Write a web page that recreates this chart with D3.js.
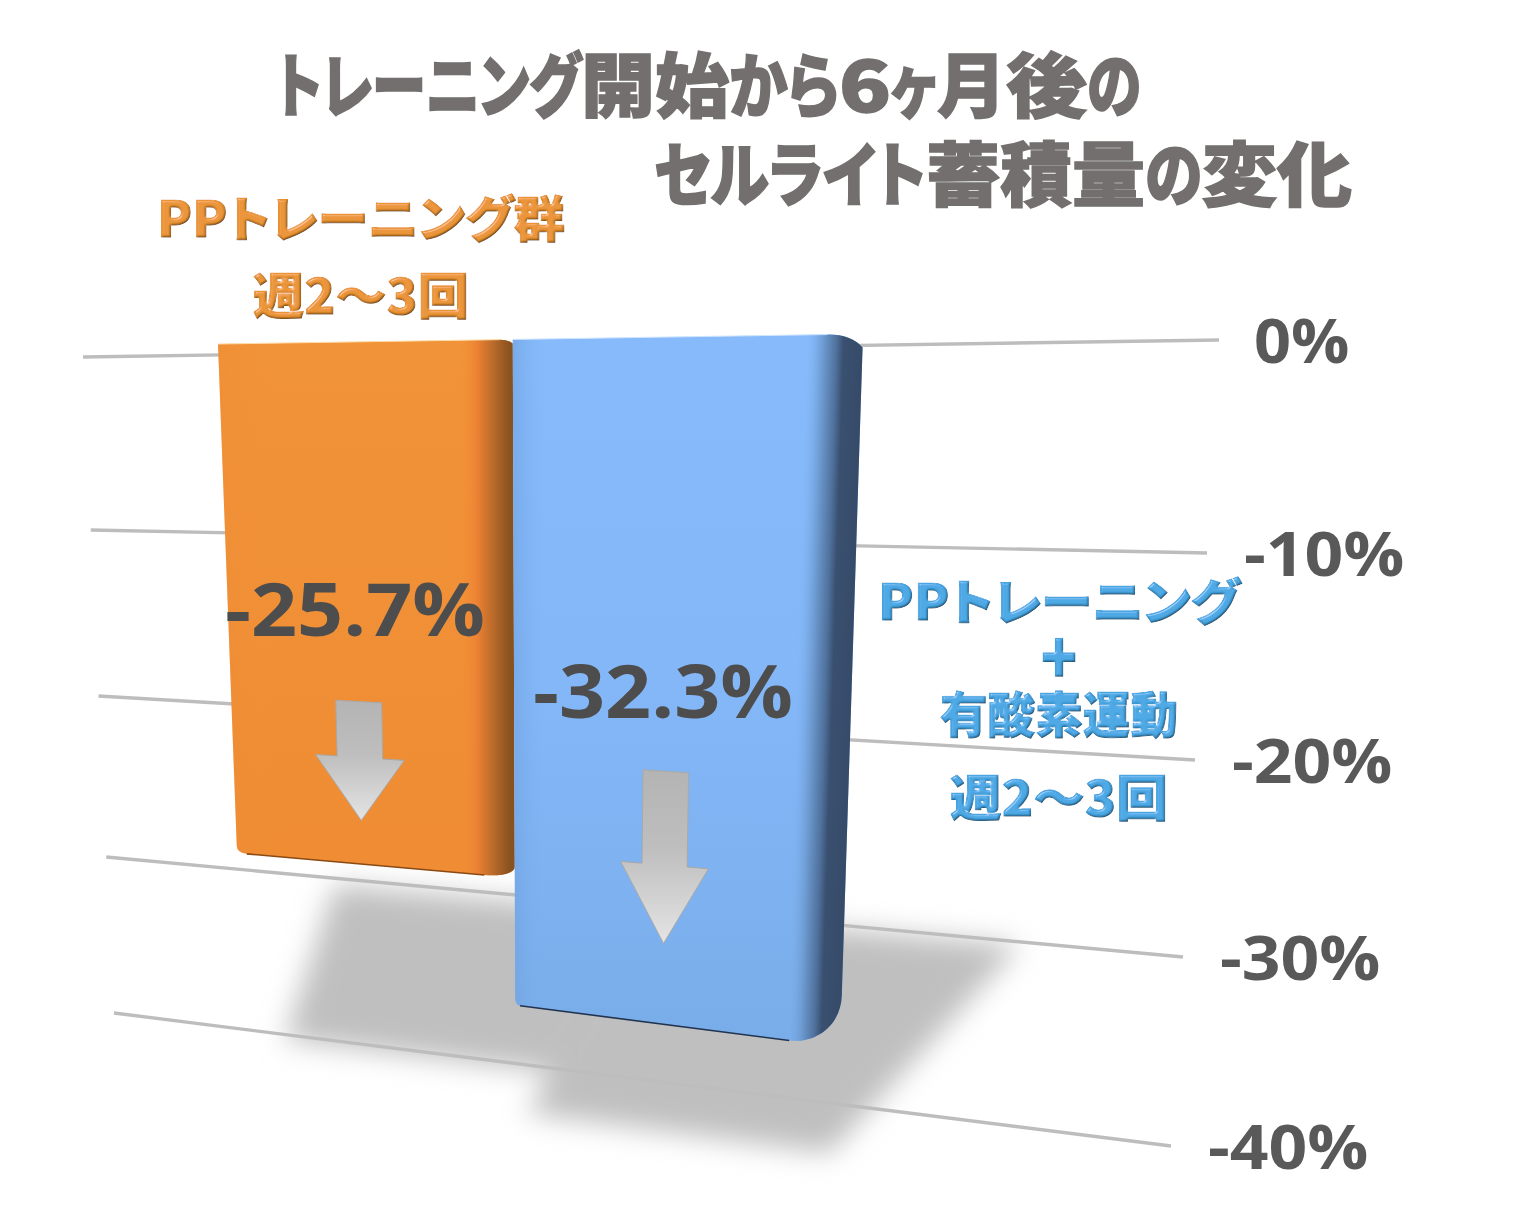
<!DOCTYPE html>
<html lang="ja"><head><meta charset="utf-8">
<script src="https://cdn.jsdelivr.net/npm/d3@7/dist/d3.min.js"></script>
<style>html,body{margin:0;padding:0;background:#fff}svg{display:block}
.jp{font-family:"Noto Sans CJK JP";font-feature-settings:"palt"}
.num{font-family:"Open Sans";font-weight:700}</style></head><body>
<script>
// ---- data
const categories = ["PPトレーニング群", "PPトレーニング+有酸素運動"];
const seriesValues = [-25.7, -32.3];
const tickValues = [0, -10, -20, -30, -40];
const tickLabels = ["0%", "-10%", "-20%", "-30%", "-40%"];
const valueLabels = ["-25.7%", "-32.3%"];
const titleRuns = [["トレーニング", "開始", "から", "6", "ヶ", "月", "後", "の"], ["セルライト", "蓄", "積", "量", "の", "変", "化"]];
const orangeCaption = ["PPトレーニング群", "週2〜3回"];
const blueCaption = ["PPトレーニング", "＋", "有酸素運動", "週2〜3回"];

const W = 1514, H = 1232;
const svg = d3.select("body").append("svg").attr("width", W).attr("height", H);
const defs = svg.append("defs");

// ---- perspective scales (value -> pixel on each side of a plane)
const gridLeftX = d3.scaleLinear().domain([0, -40]).range([83, 114]);
const gridRightX = d3.scaleLinear().domain([0, -40]).range([1219, 1171]);
const gridLeftY = d3.scaleLinear().domain(tickValues).range([357, 530, 696, 857, 1013]);
const gridRightY = d3.scaleLinear().domain(tickValues).range([340, 553, 760, 957, 1146]);

const faceLeftX = d3.scaleLinear().domain([0, -40]).range([218, 247.6]);
const faceRightX = d3.scaleLinear().domain([0, -40]).range([863, 834.6]);
const faceLeftY = d3.scaleLinear().domain([0, seriesValues[0], seriesValues[1], -40]).range([344, 853, 970, 1118]);
const faceRightY = d3.scaleLinear().domain([0, seriesValues[0], seriesValues[1], -40]).range([334, 907, 1047, 1218]);

const floorLeftX = d3.scaleLinear().domain([0, -40]).range([335, 257]);
const floorRightX = d3.scaleLinear().domain([0, -40]).range([1020, 784]);
const floorLeftY = d3.scaleLinear().domain([0, -40]).range([885, 1126]);
const floorRightY = d3.scaleLinear().domain([0, -40]).range([945, 1203]);

const band = d3.scaleLinear().domain([0, 1, 2]).range([0, 0.457, 1]);
const mix = (a, b, t) => a + (b - a) * t;
const face = (u, v) => [mix(faceLeftX(v), faceRightX(v), u), mix(faceLeftY(v), faceRightY(v), u)];
const floor = (u, v) => [mix(floorLeftX(v), floorRightX(v), u), mix(floorLeftY(v), floorRightY(v), u)];

// ---- defs
function grad(id, x2, y2, stops) {
  const g = defs.append("linearGradient").attr("id", id)
    .attr("x1", 0).attr("y1", 0).attr("x2", x2).attr("y2", y2);
  stops.forEach(s => g.append("stop").attr("offset", s[0]).attr("stop-color", s[1]).attr("stop-opacity", s[2] === undefined ? 1 : s[2]));
  return g;
}
grad("fillOrange", 0, 1, [[0, "#F19339"], [1, "#EF8C34"]]);
grad("fillBlue", 0, 1, [[0, "#86BAFB"], [0.5, "#84B7F8"], [1, "#79ADE9"]]);
grad("sideOrange", 1, 0, [[0, "#EE8A33", 0.35], [0.2, "#F19339", 0], [0.82, "#F08D36", 0], [0.87, "#EE8333", 1], [0.93, "#B8692A", 1], [0.98, "#8A5320", 1], [1, "#875020", 1]]);
grad("leftBlue", 1, 0, [[0, "#6D9FDC", 0.55], [0.09, "#7DB0F0", 0]]);
// the dark side band follows the leaning right edge of the bar
const lean = -0.032, leanBase = 334;
grad("sideBlue", 1, 0, [[0, "#7FB4F2", 0], [0.84, "#7FB4F2", 0], [0.885, "#6F9DD4", 1], [0.925, "#4F719C", 1], [0.945, "#3A5070", 1], [1, "#364B68", 1]])
  .attr("gradientUnits", "userSpaceOnUse").attr("x1", 513).attr("x2", 863).attr("y1", 0).attr("y2", 0)
  .attr("gradientTransform", `matrix(1,0,${lean},1,${-lean * leanBase},0)`);
grad("arrowFill", 0, 1, [[0, "#B4B4B4"], [0.45, "#BEBEBE"], [1, "#E4E4E4"]]);

defs.append("filter").attr("id", "soft").attr("x", "-20%").attr("y", "-20%").attr("width", "140%").attr("height", "140%")
  .append("feGaussianBlur").attr("stdDeviation", 14);

const bevel = defs.append("filter").attr("id", "bevel").attr("x", "-5%").attr("y", "-10%").attr("width", "110%").attr("height", "120%");
bevel.append("feGaussianBlur").attr("in", "SourceAlpha").attr("stdDeviation", 1.2).attr("result", "b");
const dl = bevel.append("feDiffuseLighting").attr("in", "b").attr("surfaceScale", 1.8).attr("diffuseConstant", 1.18).attr("lighting-color", "#fff").attr("result", "d");
dl.append("feDistantLight").attr("azimuth", 235).attr("elevation", 58);
bevel.append("feBlend").attr("in", "SourceGraphic").attr("in2", "d").attr("mode", "multiply").attr("result", "m");
const sl = bevel.append("feSpecularLighting").attr("in", "b").attr("surfaceScale", 1.8).attr("specularConstant", 0.3).attr("specularExponent", 45).attr("lighting-color", "#fff").attr("result", "s");
sl.append("feDistantLight").attr("azimuth", 235).attr("elevation", 50);
bevel.append("feComposite").attr("in", "m").attr("in2", "s").attr("operator", "arithmetic").attr("k1", 0).attr("k2", 1).attr("k3", 1).attr("k4", 0).attr("result", "c");
bevel.append("feComposite").attr("in", "c").attr("in2", "SourceAlpha").attr("operator", "in");

// ---- floor shadow
const shadowLine = d3.line().curve(d3.curveLinearClosed);
svg.append("g").attr("filter", "url(#soft)").attr("fill", "#BFBFBF")
  .selectAll("path").data(seriesValues).join("path")
  .attr("d", (v, i) => shadowLine([floor(band(i), 0), floor(band(i + 1), 0), floor(band(i + 1), v), floor(band(i), v)]));

// ---- grid
svg.append("g").selectAll("line").data(tickValues).join("line")
  .attr("x1", gridLeftX).attr("y1", gridLeftY)
  .attr("x2", gridRightX).attr("y2", gridRightY)
  .attr("stroke", "#BDBDBD").attr("stroke-width", 3.4);

// text drawn at its natural height but stretched to the reference's wider letterforms
function stretch(sel, factor) {
  sel.each(function (d, i) {
    const f = typeof factor === "function" ? factor(d, i) : factor;
    this.setAttribute("textLength", this.getComputedTextLength() * f);
    this.setAttribute("lengthAdjust", "spacingAndGlyphs");
  });
}

// ---- tick labels
svg.append("g").selectAll("text").data(tickValues).join("text")
  .attr("class", "num").attr("font-size", 60).attr("fill", "#595959")
  .attr("x", v => gridRightX(v) + (v === 0 ? 35 : 37)).attr("y", v => gridRightY(v) + 23)
  .text((v, i) => tickLabels[i])
  .call(stretch, v => v === 0 ? 1.08 : 1.13);

// ---- bars
const corner = [
  { topU: 0.02, topV: 0.2, botU: 0.05, botV: 0.5, leftU: 0.016, leftV: 0.35 },
  { topU: 0.055, topV: 0.6, botU: 0.085, botV: 2.4, leftU: 0.008, leftV: 0.4 }
];
function barPath(i, v) {
  const u0 = band(i), u1 = band(i + 1), c = corner[i], p = d3.path();
  p.moveTo(...face(u0, 0));
  p.lineTo(...face(u1 - c.topU, 0));
  p.quadraticCurveTo(...face(u1 - c.topU * 0.35, 0), ...face(u1, -c.topV));
  p.lineTo(...face(u1, v + c.botV));
  p.bezierCurveTo(...face(u1, v + c.botV * 0.45), ...face(u1 - c.botU * 0.45, v), ...face(u1 - c.botU, v));
  p.lineTo(...face(u0 + c.leftU, v));
  p.quadraticCurveTo(...face(u0, v), ...face(u0, v + c.leftV));
  p.closePath();
  return p.toString();
}
function bottomEdge(i, v) {
  const u0 = band(i), u1 = band(i + 1), c = corner[i], p = d3.path();
  p.moveTo(...face(u0 + c.leftU, v));
  p.lineTo(...face(u1 - c.botU, v));
  return p.toString();
}
const fills = ["fillOrange", "fillBlue"], sides = ["sideOrange", "sideBlue"], edges = ["#8A4A12", "#20344F"], tops = ["#FFDCA8", "#CFE4FF"];
const bars = svg.append("g").selectAll("g").data(seriesValues).join("g");
bars.append("path").attr("d", (v, i) => barPath(i, v)).attr("fill", (v, i) => `url(#${fills[i]})`);
bars.append("path").attr("d", (v, i) => barPath(i, v)).attr("fill", (v, i) => i ? "url(#leftBlue)" : "none");
bars.append("path").attr("d", (v, i) => barPath(i, v)).attr("fill", (v, i) => `url(#${sides[i]})`);
bars.append("path").attr("d", (v, i) => bottomEdge(i, v)).attr("fill", "none").attr("stroke", (v, i) => edges[i]).attr("stroke-width", 1.6);
bars.append("line")
  .attr("x1", (v, i) => face(band(i), 0)[0]).attr("y1", (v, i) => face(band(i), 0)[1])
  .attr("x2", (v, i) => face(band(i + 1) - corner[i].topU, 0)[0]).attr("y2", (v, i) => face(band(i + 1) - corner[i].topU, 0)[1])
  .attr("stroke", (v, i) => tops[i]).attr("stroke-width", 1);

// ---- arrows (drawn on the bar face)
const arrowCentre = [0.206, 0.703];
const arrowTop = [-17.7, -20.15];
const arrowShoulder = [-20.45, -24.5];
const arrowTip = [-23.55, -28.3];
const arrowLine = d3.line().curve(d3.curveLinearClosed);
svg.append("g").selectAll("path").data(arrowCentre).join("path")
  .attr("d", (u, i) => arrowLine([
    face(u - 0.037, arrowTop[i]), face(u + 0.037, arrowTop[i]),
    face(u + 0.037, arrowShoulder[i]), face(u + 0.072, arrowShoulder[i]),
    face(u, arrowTip[i]),
    face(u - 0.072, arrowShoulder[i]), face(u - 0.037, arrowShoulder[i])
  ]))
  .attr("fill", "url(#arrowFill)").attr("stroke", "#A9A9A9").attr("stroke-width", 1);

// ---- value labels
const labelX = [225, 533], labelY = [636, 718];
svg.append("g").selectAll("text").data(valueLabels).join("text")
  .attr("class", "num").attr("font-size", 74).attr("fill", "#4D4D4D")
  .attr("x", (d, i) => labelX[i]).attr("y", (d, i) => labelY[i]).text(d => d)
  .call(stretch, 1.09);

// ---- title: each run is fitted to the extent it has in the reference
const titleEdges = [[276, 581, 729, 839, 891, 937, 1006, 1087, 1141], [654, 926, 1000, 1072, 1145, 1202, 1277, 1352]];
const titleY = [112, 201];
svg.append("g").selectAll("text").data(titleRuns).join("text")
  .attr("class", "jp").attr("font-size", 70).attr("font-weight", 900)
  .attr("fill", "#736F6F").attr("stroke", "#736F6F").attr("stroke-width", 1.5)
  .attr("y", (d, i) => titleY[i])
  .each(function (runs, line) {
    d3.select(this).selectAll("tspan").data(runs).join("tspan")
      .attr("x", (r, j) => titleEdges[line][j])
      .attr("textLength", (r, j) => titleEdges[line][j + 1] - titleEdges[line][j])
      .attr("lengthAdjust", "spacingAndGlyphs")
      .text(r => r);
  });

// ---- captions
function caption(lines, x, ys, widths, size, colour) {
  svg.append("g").attr("filter", "url(#bevel)").selectAll("text").data(lines).join("text")
    .attr("class", "jp").attr("font-size", size).attr("font-weight", 900).attr("fill", colour)
    .attr("stroke", colour).attr("stroke-width", d => d === "＋" ? 4 : 1)
    .attr("x", (d, i) => x - widths[i] / 2).attr("y", (d, i) => ys[i])
    .attr("textLength", (d, i) => widths[i]).attr("lengthAdjust", "spacingAndGlyphs")
    .text(d => d);
}
caption(orangeCaption, 361, [237, 314], [408, 216], 49, "#E8922F");
caption(blueCaption, 1059, [620, 676, 733, 816], [362, 42, 238, 218], 49, "#45A5E2");
</script></body></html>
